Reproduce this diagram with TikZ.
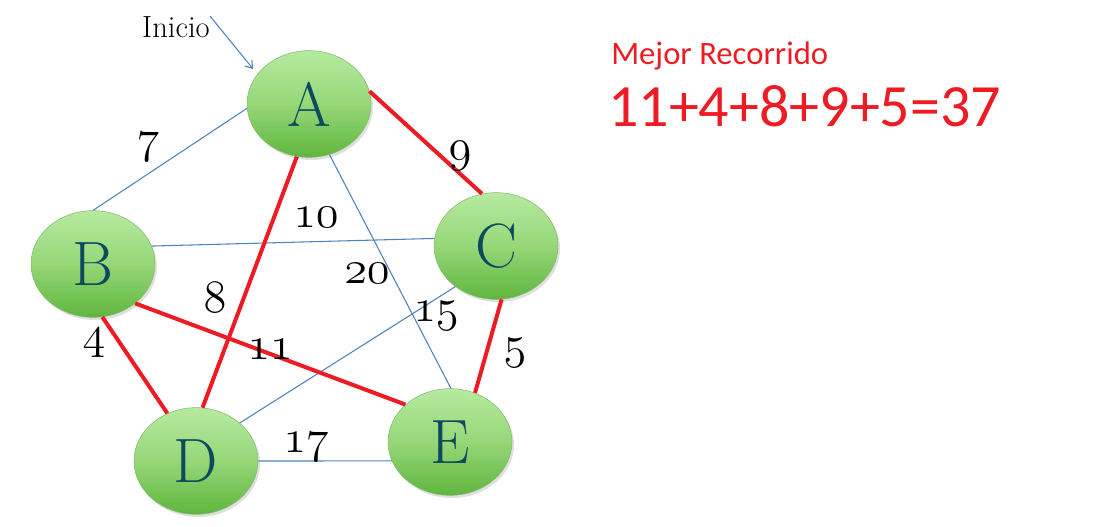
\documentclass[tikz,border=0pt]{standalone}
\usepackage{fontspec}
\usepackage{graphicx}
\newfontfamily\calibri{Carlito}
\usetikzlibrary{shapes.geometric,shadows,arrows.meta}

% numeros antiguos para los pesos
\newcommand{\pesonum}[1]{\scalebox{1.4}{\fontsize{24.88}{26}\usefont{OML}{cmm}{m}{it}#1}}

\begin{document}
\begin{tikzpicture}[x=0.75pt, y=-0.75pt,
    vertice/.style={ellipse, draw=nodeedge, line width=0.4pt,
        top color=nodetop, bottom color=nodebot, middle color=nodemid,
        minimum width=93pt, minimum height=80pt, inner sep=0pt,
        drop shadow={opacity=0.25, shadow xshift=1.5pt, shadow yshift=-2pt},
        text=letra, font=\fontsize{47}{50}\selectfont},
    arista/.style={draw=azul, line width=0.8pt},
    ruta/.style={draw=rojo, line width=3pt},
    peso/.style={inner sep=0pt}]

    % Definiendo colores
    \definecolor{nodetop}{RGB}{182, 234, 160}  % Verde claro arriba
    \definecolor{nodemid}{RGB}{150, 215, 120}
    \definecolor{nodebot}{RGB}{95, 182, 62}    % Verde oscuro abajo
    \definecolor{nodeedge}{RGB}{135, 185, 115}
    \definecolor{letra}{RGB}{14, 74, 94}
    \definecolor{azul}{RGB}{79, 129, 189}
    \definecolor{rojo}{RGB}{237, 28, 36}

    \useasboundingbox (0,0) rectangle (1102,527);

    % 1. Vertices del grafo
    \node[vertice] (A) at (309,104) {A};
    \node[vertice] (B) at (93,264)  {B};
    \node[vertice] (C) at (496,246) {C};
    \node[vertice] (D) at (196,461) {D};
    \node[vertice] (E) at (450,442) {E};

    % 2. Aristas azules (no usadas)
    \draw[arista] (A.184) -- (B.north);
    \draw[arista] (B.17) -- (C.173);
    \draw[arista] (A.292) -- (E.89);
    \draw[arista] (D.41) -- (C.225);
    \draw[arista] (D.east) -- (E.198);

    % 3. Recorrido en rojo
    \draw[ruta] (A.12) -- (C.105);
    \draw[ruta] (A.257) -- (D.83);
    \draw[ruta] (B.280) -- (D.121);
    \draw[ruta] (B.317) -- (E.140);
    \draw[ruta] (C.276) -- (E.63);

    % 4. Pesos de las aristas
    \node[peso] (w7)  at (148,147) {\pesonum{7}};
    \node[peso] (w9)  at (460,156) {\pesonum{9}};
    \node[peso] (w10) at (316,218) {\pesonum{10}};
    \node[peso] (w20) at (367,274) {\pesonum{20}};
    \node[peso] (w8)  at (215,298) {\pesonum{8}};
    \node[peso] (w15) at (436,316) {\pesonum{15}};
    \node[peso] (w4)  at (94,343)  {\pesonum{4}};
    \node[peso] (w11) at (270,350) {\pesonum{11}};
    \node[peso] (w5)  at (515,353) {\pesonum{5}};
    \node[peso] (w17) at (306,447) {\pesonum{17}};

    % 5. Inicio
    \node[font=\fontsize{23}{25}\selectfont, inner sep=0pt] (ini) at (176,27) {Inicio};
    \draw[->, >={Straight Barb[length=5pt,width=7pt]}, azul, line width=0.8pt,
          shorten >=5pt] (ini.north east) -- (A.150);

    % 6. Texto del resultado
    \node[anchor=base west, text=rojo, inner sep=0pt,
          font=\calibri\fontsize{24.5}{26}\selectfont] (titulo) at (611,65) {Mejor Recorrido};
    \node[anchor=base west, text=rojo, inner sep=0pt,
          font=\calibri\fontsize{45}{48}\selectfont] (suma) at (608,127) {11+4+8+9+5=37};

\end{tikzpicture}
\end{document}
